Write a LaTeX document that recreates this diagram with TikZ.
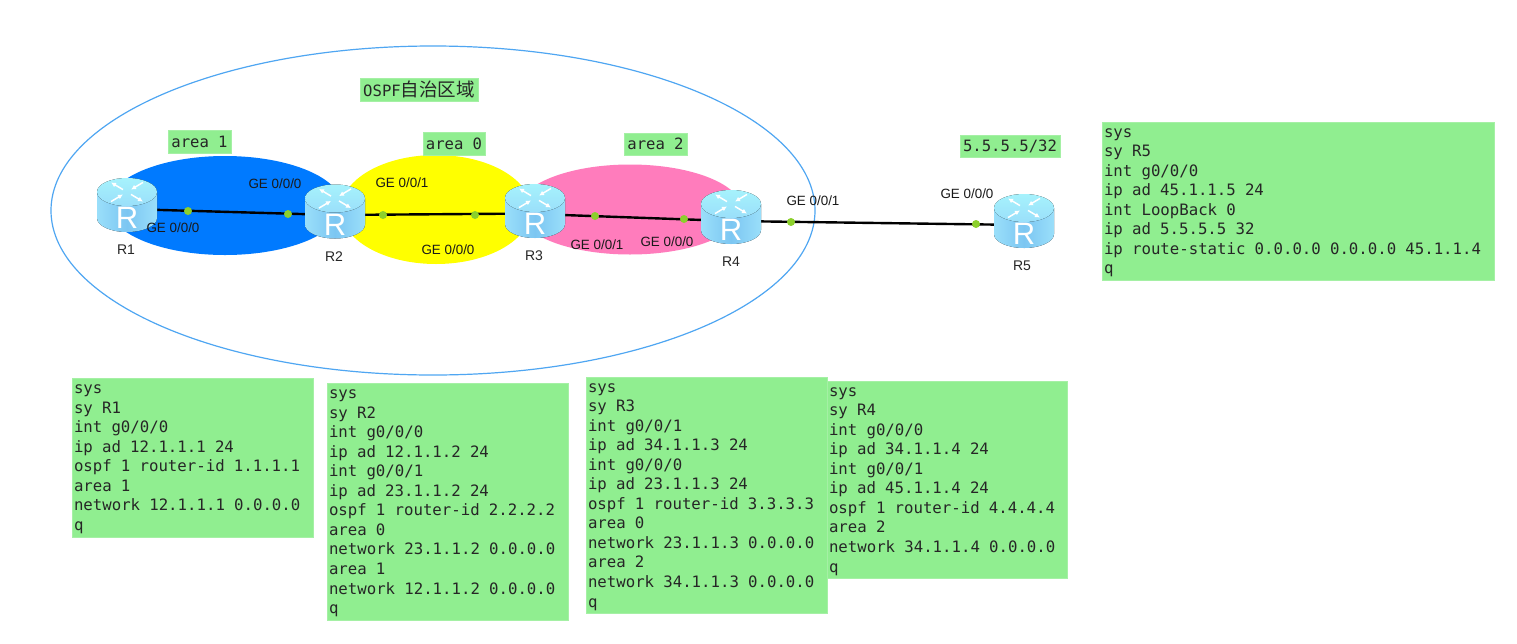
\documentclass[tikz,border=0pt]{standalone}
\usepackage{fontspec}
\usetikzlibrary{arrows.meta,shapes.geometric}
\setmainfont{Liberation Sans}
\newfontfamily\monof{DejaVu Sans Mono}
\newfontfamily\cjkf{Noto Sans CJK SC}
\newcommand\cfgfontset{\monof\fontsize{15.7}{19.55}\selectfont}
\newcommand\tagfontset{\monof\fontsize{15.6}{16}\selectfont\spaceskip 9.2pt\relax}
\newcommand\cfgstart{\spaceskip 9.2pt\xspaceskip 9.2pt\relax\rule{0pt}{12.4pt}}
\definecolor{boxg}{HTML}{90EE90}
\definecolor{boxb}{HTML}{A5F0A5}
\definecolor{dotg}{HTML}{8CD02C}
\definecolor{ringb}{HTML}{4FA6F2}
\definecolor{rlight}{HTML}{A6F2FC}
\definecolor{redge}{HTML}{9ADFFA}
\definecolor{rmid}{HTML}{7CC6F2}
\definecolor{areablue}{RGB}{0,122,255}
\definecolor{areayellow}{RGB}{255,255,0}
\definecolor{areapink}{RGB}{255,124,188}
\tikzset{
  cfgbox/.style={draw=boxb,fill=boxg,line width=0.8pt,anchor=north west,inner xsep=2pt,inner ysep=0pt,outer sep=0pt,align=left,text=black!85,font=\cfgfontset,execute at begin node={\cfgstart}},
  tagbox/.style={draw=boxb,fill=boxg,line width=0.8pt,inner sep=0pt,outer sep=0pt,text=black!85,font=\tagfontset},
  ge/.style={inner sep=0pt,font=\fontsize{13.4}{15}\selectfont,text=black!90},
  rname/.style={inner sep=0pt,font=\fontsize{14}{16}\selectfont,text=black!85},
  linkdot/.style={circle,fill=dotg,minimum size=8pt,inner sep=0pt},
  rtnode/.style={minimum width=60pt,minimum height=54pt,inner sep=0pt},
  link/.style={line width=2.4pt,black},
  area/.style={ellipse,inner sep=0pt,outer sep=0pt},
  router/.pic={
    \fill[left color=redge,right color=redge,middle color=rmid]
      (-30,-13) -- (-30,13) .. controls (-30,20.7) and (-16.6,27) .. (0,27) .. controls (16.6,27) and (30,20.7) .. (30,13) -- (30,-13) -- cycle;
    \fill[top color=rlight,bottom color=redge] (0,-13) ellipse[x radius=30,y radius=14];
    \begin{scope}[white,line width=1.5pt,-{Latex[length=5pt,width=5pt]},shift={(0,-13)},yscale=0.6]
      \draw (-4,-4) -- (-16,-16);
      \draw (4,4) -- (16,16);
      \draw (-16,16) -- (-4,4);
      \draw (16,-16) -- (4,-4);
    \end{scope}
    \node[inner sep=0pt,text=white,font=\fontsize{31}{31}\selectfont] at (0,13) {R};
  }
}
\begin{document}
\begin{tikzpicture}[x=1pt,y=-1pt]
\useasboundingbox[fill=white] (0,0) rectangle (1517,643);
% areas
\node[area,draw=ringb,line width=1.2pt,minimum width=764pt,minimum height=329pt] (as) at (433,210.5) {};
\node[area,fill=areablue,minimum width=234pt,minimum height=99pt] (a1) at (225,205.5) {};
\node[area,fill=areayellow,minimum width=190pt,minimum height=109pt] (a0) at (436,209.5) {};
\node[area,fill=areapink,minimum width=224pt,minimum height=90pt] (a2) at (630,209.5) {};
% routers
\node[rtnode] (R1) at (127,205) {};
\node[rtnode] (R2) at (335,211.5) {};
\node[rtnode] (R3) at (535,211) {};
\node[rtnode] (R4) at (731,217) {};
\node[rtnode] (R5) at (1024,221) {};
% link points
\coordinate (l1a) at (127,209);
\coordinate (l1b) at (335,215);
\coordinate (l2b) at (535,213.5);
\coordinate (l3a) at (535,214);
\coordinate (l3b) at (731,221);
\coordinate (l4a) at (731,221);
\coordinate (l4b) at (1024,225);
\draw[link] (l1a) -- (l1b);
\draw[link] (l1b) -- (l2b);
\draw[link] (l3a) -- (l3b);
\draw[link] (l4a) -- (l4b);
\node[linkdot] (d1) at (188,211) {};
\node[linkdot] (d2) at (288,214) {};
\node[linkdot] (d3) at (383,215) {};
\node[linkdot] (d4) at (475,215) {};
\node[linkdot] (d5) at (595,216) {};
\node[linkdot] (d6) at (684,219) {};
\node[linkdot] (d7) at (791,222) {};
\node[linkdot] (d8) at (976,224) {};
\pic at (R1) {router};
\pic at (R2) {router};
\pic at (R3) {router};
\pic at (R4) {router};
\pic at (R5) {router};
% router names
\node[rname] (n1) at (126,250) {R1};
\node[rname] (n2) at (334,257) {R2};
\node[rname] (n3) at (534,256) {R3};
\node[rname] (n4) at (731,262) {R4};
\node[rname] (n5) at (1022,266) {R5};
% interface labels
\node[ge] (g1) at (173,228) {GE 0/0/0};
\node[ge] (g2) at (275,184) {GE 0/0/0};
\node[ge] (g3) at (402,183) {GE 0/0/1};
\node[ge] (g4) at (448,250) {GE 0/0/0};
\node[ge] (g5) at (597,245) {GE 0/0/1};
\node[ge] (g6) at (667,242) {GE 0/0/0};
\node[ge] (g7) at (813,201) {GE 0/0/1};
\node[ge] (g8) at (967,194) {GE 0/0/0};
% tags
\node[tagbox,minimum width=118pt,minimum height=23pt] (t0) at (419,89.5) {OSPF{\cjkf\fontsize{18.5}{18.5}\selectfont 自治区域}};
\node[tagbox,minimum width=63pt,minimum height=23pt] (t1) at (199.5,141.5) {area 1};
\node[tagbox,minimum width=62pt,minimum height=23pt] (t2) at (454,143.5) {area 0};
\node[tagbox,minimum width=63pt,minimum height=22pt] (t3) at (655.5,144) {area 2};
\node[tagbox,minimum width=100pt,minimum height=22pt] (t4) at (1010,146) {5.5.5.5/32};
% configuration boxes
\node[cfgbox,minimum width=241pt,minimum height=159pt,text width=237pt] (c1) at (72,378) {sys\\sy R1\\int g0/0/0\\ip ad 12.1.1.1 24\\ospf 1 router-id 1.1.1.1\\area 1\\network 12.1.1.1 0.0.0.0\\q};
\node[cfgbox,minimum width=241pt,minimum height=237pt,text width=237pt] (c2) at (327,383) {sys\\sy R2\\int g0/0/0\\ip ad 12.1.1.2 24\\int g0/0/1\\ip ad 23.1.1.2 24\\ospf 1 router-id 2.2.2.2\\area 0\\network 23.1.1.2 0.0.0.0\\area 1\\network 12.1.1.2 0.0.0.0\\q};
\node[cfgbox,minimum width=241pt,minimum height=236pt,text width=237pt] (c3) at (586,377) {sys\\sy R3\\int g0/0/1\\ip ad 34.1.1.3 24\\int g0/0/0\\ip ad 23.1.1.3 24\\ospf 1 router-id 3.3.3.3\\area 0\\network 23.1.1.3 0.0.0.0\\area 2\\network 34.1.1.3 0.0.0.0\\q};
\node[cfgbox,minimum width=240pt,minimum height=197pt,text width=236pt] (c4) at (827,381) {sys\\sy R4\\int g0/0/0\\ip ad 34.1.1.4 24\\int g0/0/1\\ip ad 45.1.1.4 24\\ospf 1 router-id 4.4.4.4\\area 2\\network 34.1.1.4 0.0.0.0\\q};
\node[cfgbox,minimum width=392pt,minimum height=158pt,text width=388pt] (c5) at (1102,122) {sys\\sy R5\\int g0/0/0\\ip ad 45.1.1.5 24\\int LoopBack 0\\ip ad 5.5.5.5 32\\ip route-static 0.0.0.0 0.0.0.0 45.1.1.4\\q};
\end{tikzpicture}
\end{document}
